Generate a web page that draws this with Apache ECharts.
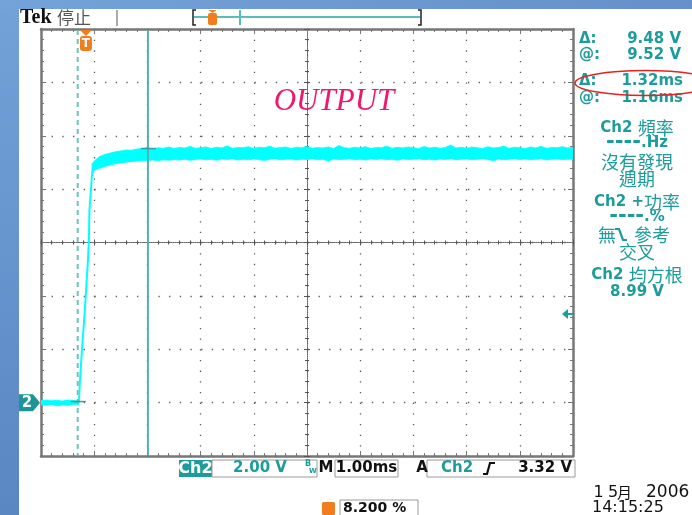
<!DOCTYPE html>
<html><head><meta charset="utf-8">
<script src="https://cdn.jsdelivr.net/npm/echarts@6/dist/echarts.min.js"></script>
<style>html,body{margin:0;padding:0;background:#fff}#c{width:692px;height:515px}</style>
</head><body><div id="c"></div>
<script>
// ---- data (time in ms from left edge of screen, Ch2 volts) ----
const baseT  = [0, 0.1, 0.2, 0.3, 0.4, 0.5, 0.6, 0.7, 0.713];
const baseUp = [0.08, 0.10, 0.07, 0.09, 0.06, 0.10, 0.08, 0.07, 0.06];
const baseLo = [-0.08, -0.10, -0.07, -0.12, -0.09, -0.10, -0.08, -0.07, -0.06];

const riseT = [0.713, 0.732, 0.769, 0.81, 0.844, 0.882, 0.90, 0.91, 0.938, 0.957, 0.976];
const riseV = [0, 0.82, 1.95, 3.07, 4.08, 5.32, 6.07, 7.19, 7.94, 8.50, 8.77];

const platT = [0.96,
  1.0,1.1,1.2,1.3,1.4,1.5,1.6,1.7,1.8,1.9,
  2.0,2.1,2.2,2.3,2.4,2.5,2.6,2.7,2.8,2.9,
  3.0,3.1,3.2,3.3,3.4,3.5,3.6,3.7,3.8,3.9,
  4.0,4.1,4.2,4.3,4.4,4.5,4.6,4.7,4.8,4.9,
  5.0,5.1,5.2,5.3,5.4,5.5,5.6,5.7,5.8,5.9,
  6.0,6.1,6.2,6.3,6.4,6.5,6.6,6.7,6.8,6.9,
  7.0,7.1,7.2,7.3,7.4,7.5,7.6,7.7,7.8,7.9,
  8.0,8.1,8.2,8.3,8.4,8.5,8.6,8.7,8.8,8.9,
  9.0,9.1,9.2,9.3,9.4,9.5,9.6,9.7,9.8,9.9,
  10.0];
const platUp = [8.95,
  9.05,9.22,9.30,9.35,9.40,9.43,9.47,9.46,9.50,9.52,
  9.56,9.50,9.55,9.53,9.58,9.52,9.56,9.54,9.60,9.53,
  9.55,9.58,9.52,9.57,9.54,9.62,9.53,9.56,9.55,9.59,
  9.52,9.57,9.55,9.61,9.53,9.56,9.58,9.52,9.57,9.55,
  9.60,9.53,9.56,9.54,9.58,9.52,9.63,9.55,9.53,9.57,
  9.54,9.59,9.52,9.56,9.55,9.61,9.53,9.57,9.54,9.58,
  9.55,9.52,9.60,9.54,9.57,9.53,9.56,9.65,9.54,9.57,
  9.53,9.58,9.55,9.52,9.59,9.54,9.56,9.61,9.53,9.57,
  9.55,9.52,9.58,9.54,9.60,9.53,9.56,9.55,9.59,9.54,
  9.56];
const platLo = [8.55,
  8.70,8.78,8.85,8.90,8.95,8.98,9.01,9.03,9.05,9.06,
  9.07,9.09,9.07,9.10,9.08,9.11,9.09,9.12,9.08,9.11,
  9.13,9.10,9.12,9.08,9.13,9.11,9.14,9.09,9.12,9.10,
  9.13,9.11,9.07,9.12,9.14,9.10,9.12,9.13,9.09,9.12,
  9.11,9.14,9.10,9.12,9.05,9.13,9.11,9.12,9.14,9.10,
  9.12,9.09,9.13,9.11,9.14,9.10,9.12,9.08,9.13,9.11,
  9.12,9.14,9.10,9.12,9.09,9.13,9.11,9.14,9.10,9.12,
  9.13,9.10,9.12,9.14,9.11,9.06,9.13,9.10,9.12,9.14,
  9.11,9.13,9.10,9.12,9.14,9.09,9.12,9.13,9.11,9.12,
  9.12];

const cursorT = [0.69, 2.01];
const cursorV = [0.04, 9.52];
const triggerT = 0.845;
const triggerLevel = 3.32;

const readoutLabels = ['Δ:', '@:', 'Δ:', '@:'];
const readoutValues = ['9.48 V', '9.52 V', '1.32ms', '1.16ms'];

// ---- colours ----
const TEAL = '#1e9c9c', CYAN = '#00ffff', ORANGE = '#f27d1c', GRID = '#5a5a5a', FRAME = '#777777';

const bands = [
  {t: baseT, up: baseUp, lo: baseLo},
  {t: platT, up: platUp, lo: platLo}
];

const chart = echarts.init(document.getElementById('c'), null, {renderer: 'canvas'});

function mainAxis(pos, split, extra) {
  return Object.assign({
    type: 'value', gridIndex: 0, position: pos,
    axisLine: {show: true, onZero: false, lineStyle: {color: FRAME, width: 2.5}},
    axisTick: {show: true, inside: true, length: 5, lineStyle: {color: FRAME, width: 1}},
    minorTick: {show: true, splitNumber: 5, length: 3, lineStyle: {color: FRAME, width: 1}},
    axisLabel: {show: false},
    splitLine: {show: split, lineStyle: {color: GRID, width: 1.3, type: [1.3, 9.375]}}
  }, extra);
}
function centerAxis(pos, extra) {
  return Object.assign({
    type: 'value', gridIndex: 1, position: pos,
    axisLine: {show: true, onZero: true, lineStyle: {color: '#666', width: 1, type: [1, 1.2]}},
    axisTick: {show: true, length: 3, lineStyle: {color: '#555', width: 1}},
    minorTick: {show: true, splitNumber: 5, length: 2, lineStyle: {color: '#555', width: 1}},
    axisLabel: {show: false},
    splitLine: {show: false}
  }, extra);
}

function txt(x, y, text, font, fill, align) {
  return {type: 'text', x: x, y: y, z: 10, silent: true,
    style: {text: text, font: font, fill: fill, align: align || 'left', verticalAlign: 'middle',
            textAlign: align || 'left', textVerticalAlign: 'middle'}};
}
const LAT = 'bold 15px "DejaVu Sans", sans-serif';
const DATEF = '16px "DejaVu Sans", sans-serif';
const richStyles = {
  a: {fontSize: 15, fontWeight: 'bold', fontFamily: '"DejaVu Sans", sans-serif', fill: TEAL, color: TEAL},
  d: {fontSize: 21, fontWeight: 'bold', fontFamily: '"DejaVu Sans", sans-serif', fill: TEAL, color: TEAL},
  c: {fontSize: 18, fontWeight: 'normal', fontFamily: '"Noto Sans CJK TC", sans-serif', fill: TEAL, color: TEAL}
};
function rtxt(x, y, text) {
  return {type: 'text', x: x, y: y, z: 10, silent: true,
    style: {text: text, rich: richStyles, fill: TEAL, align: 'center', verticalAlign: 'middle',
            textAlign: 'center', textVerticalAlign: 'middle'}};
}
function box(x, y, w, h, fill, stroke) {
  return {type: 'rect', z: 9, silent: true, shape: {x: x, y: y, width: w, height: h},
    style: {fill: fill || '#fff', stroke: stroke || null, lineWidth: 1}};
}
function pl(points, stroke, w) {
  return {type: 'polyline', z: 10, silent: true, shape: {points: points},
    style: {stroke: stroke, lineWidth: w || 1.5, fill: null}};
}

const graphics = [
  // blue surround
  {type: 'rect', z: 1, silent: true, shape: {x: 0, y: 0, width: 19, height: 515},
    style: {fill: new echarts.graphic.LinearGradient(0, 0, 0, 1, [{offset: 0, color: '#72a2d8'}, {offset: 1, color: '#5a86c2'}])}},
  {type: 'rect', z: 1, silent: true, shape: {x: 0, y: 0, width: 692, height: 9},
    style: {fill: new echarts.graphic.LinearGradient(0, 0, 1, 0, [{offset: 0, color: '#73a3d8'}, {offset: 1, color: '#6690c9'}])}},
  // header
  txt(20, 18, 'Tek', 'bold 20px "Liberation Serif", serif', '#111'),
  txt(57, 18, '停止', '17px "Noto Sans CJK TC", sans-serif', '#555'),
  pl([[117, 10], [117, 26]], '#aaaaaa', 2),
  pl([[196, 10], [193, 10], [193, 25], [196, 25]], '#222', 1.5),
  pl([[418, 10], [421, 10], [421, 25], [418, 25]], '#222', 1.5),
  pl([[194, 17], [420, 17]], '#5bbcbc', 2),
  pl([[240, 10], [240, 25]], '#5bbcbc', 2),
  {type: 'polygon', z: 11, silent: true, shape: {points: [[208.5, 10], [216.5, 10], [212.5, 13]]}, style: {fill: ORANGE}},
  {type: 'rect', z: 11, silent: true, shape: {x: 208, y: 13, width: 9, height: 12, r: 2}, style: {fill: ORANGE}},
  pl([[212.5, 15], [212.5, 23]], '#fff', 1.5),
  // right readouts
  txt(579, 39, readoutLabels[0], LAT, TEAL), txt(681, 39, readoutValues[0], LAT, TEAL, 'right'),
  txt(579, 55, readoutLabels[1], LAT, TEAL), txt(681, 55, readoutValues[1], LAT, TEAL, 'right'),
  txt(579, 81, readoutLabels[2], LAT, TEAL), txt(683, 81, readoutValues[2], LAT, TEAL, 'right'),
  txt(579, 98, readoutLabels[3], LAT, TEAL), txt(683, 98, readoutValues[3], LAT, TEAL, 'right'),
  {type: 'ellipse', z: 12, silent: true, shape: {cx: 645, cy: 83, rx: 70, ry: 12.5},
    style: {fill: null, stroke: '#e52222', lineWidth: 1.5}},
  rtxt(637, 128, '{a|Ch2 }{c|頻率}'),
  rtxt(637, 143, '{d|----}{a|.Hz}'),
  rtxt(637, 162, '{c|沒有發現}'),
  rtxt(637, 179, '{c|週期}'),
  rtxt(637, 202, '{a|Ch2 +}{c|功率}'),
  rtxt(637, 217, '{d|----}{a|.%}'),
  rtxt(607, 235, '{c|無}'),
  pl([[615, 229], [619, 229], [623, 240], [627, 240]], TEAL, 2.2),
  rtxt(652, 235, '{c|參考}'),
  rtxt(637, 252, '{c|交叉}'),
  rtxt(637, 275, '{a|Ch2 }{c|均方根}'),
  rtxt(637, 292, '{a|8.99 V}'),
  // OUTPUT label
  txt(334, 102, 'OUTPUT', 'italic 31px "Liberation Serif", serif', '#f0186e', 'center'),
  // bottom status bar
  box(179, 460, 33, 17, TEAL),
  txt(195.5, 468.5, 'Ch2', 'bold 16px "DejaVu Sans", sans-serif', '#fff', 'center'),
  box(212, 460, 105, 17, '#fff', '#9a9a9a'),
  txt(260, 468.5, '2.00 V', LAT, TEAL, 'center'),
  txt(305, 464, 'B', 'bold 8px "DejaVu Sans", sans-serif', TEAL),
  txt(309, 471, 'W', 'bold 7px "DejaVu Sans", sans-serif', TEAL),
  txt(326, 468.5, 'M', LAT, '#111', 'center'),
  box(335, 460, 63, 17, '#fff', '#9a9a9a'),
  txt(366.5, 468.5, '1.00ms', LAT, '#111', 'center'),
  txt(422, 468.5, 'A', LAT, '#111', 'center'),
  box(427, 460, 148, 17, '#fff', '#9a9a9a'),
  txt(457, 468.5, 'Ch2', LAT, TEAL, 'center'),
  pl([[483, 474], [487, 474], [490, 463], [495, 463]], '#111', 2.2),
  txt(572, 468.5, '3.32 V', LAT, '#111', 'right'),
  txt(598.5, 493, '1', DATEF, '#111', 'center'),
  txt(613, 493, '5', DATEF, '#111', 'center'),
  txt(624.5, 492, '月', '15px "Noto Sans CJK TC", sans-serif', '#111', 'center'),
  txt(646, 493, '2006', '17px "DejaVu Sans", sans-serif', '#111'),
  txt(592, 508, '14:15:25', DATEF, '#111'),
  {type: 'rect', z: 11, silent: true, shape: {x: 322, y: 502, width: 13, height: 13, r: 1.5}, style: {fill: ORANGE}},
  txt(328.5, 508.5, 'T', 'bold 12px "DejaVu Sans", sans-serif', '#fff', 'center'),
  box(340, 500, 78, 16, '#fff', '#9a9a9a'),
  txt(343, 508, '8.200 %', 'bold 14px "DejaVu Sans", sans-serif', '#111')
];

const option = {
  backgroundColor: '#ffffff',
  animation: false,
  grid: [
    {left: 41, top: 29, width: 532, height: 427, show: false},
    {left: 41, top: 29, width: 532, height: 427, show: false}
  ],
  xAxis: [
    mainAxis('bottom', true, {min: 0, max: 10, interval: 1}),
    mainAxis('top', false, {min: 0, max: 10, interval: 1}),
    centerAxis('bottom', {min: -5, max: 5, interval: 1}),
    centerAxis('top', {min: -5, max: 5, interval: 1})
  ],
  yAxis: [
    mainAxis('left', true, {min: -2, max: 14, interval: 2}),
    mainAxis('right', false, {min: -2, max: 14, interval: 2}),
    centerAxis('left', {min: -4, max: 4, interval: 1}),
    centerAxis('right', {min: -4, max: 4, interval: 1})
  ],
  series: [
    {
      type: 'custom', name: 'trace band', xAxisIndex: 0, yAxisIndex: 0, z: 3, clip: true,
      data: bands.map((b, i) => [b.t[0], b.up[0], i]),
      renderItem: function (params, api) {
        const b = bands[api.value(2)];
        const upper = b.t.map((t, i) => api.coord([t, b.up[i]]));
        const lower = b.t.map((t, i) => api.coord([t, b.lo[i]])).reverse();
        return {type: 'polygon', shape: {points: upper.concat(lower)},
          style: {fill: CYAN, stroke: CYAN, lineWidth: 0.8}};
      }
    },
    {
      type: 'line', name: 'rise', xAxisIndex: 0, yAxisIndex: 0, z: 3,
      data: riseT.map((t, i) => [t, riseV[i]]),
      symbol: 'none', lineStyle: {color: CYAN, width: 2}
    },
    {
      type: 'custom', name: 'cursors', xAxisIndex: 0, yAxisIndex: 0, z: 5, clip: false,
      data: cursorT.map((t, i) => [t, cursorV[i], i]),
      renderItem: function (params, api) {
        const t = api.value(0), v = api.value(1), k = api.value(2);
        const top = api.coord([t, 14]), bot = api.coord([t, -2]), c = api.coord([t, v]);
        return {type: 'group', children: [
          {type: 'line', shape: {x1: top[0], y1: top[1] + 1, x2: bot[0], y2: bot[1] - 1},
            style: {stroke: k ? '#4fb3b3' : '#6cc3c3', lineWidth: 2, lineDash: k ? null : [5, 4]}},
          {type: 'line', shape: {x1: c[0] - 7, y1: c[1], x2: c[0] + 8, y2: c[1]},
            style: {stroke: '#3c9a9a', lineWidth: 1.5}}
        ]};
      }
    },
    {
      type: 'custom', name: 'markers', xAxisIndex: 0, yAxisIndex: 0, z: 6, clip: false,
      data: [[triggerT, 14, 0], [10, triggerLevel, 1], [0, 0, 2]],
      renderItem: function (params, api) {
        const p = api.coord([api.value(0), api.value(1)]), k = api.value(2);
        if (k === 0) {
          return {type: 'group', children: [
            {type: 'polygon', shape: {points: [[p[0] - 6, p[1] + 1], [p[0] + 6, p[1] + 1], [p[0], p[1] + 7]]}, style: {fill: ORANGE}},
            {type: 'rect', shape: {x: p[0] - 6, y: p[1] + 7, width: 12, height: 15, r: 3}, style: {fill: ORANGE}},
            {type: 'text', x: p[0], y: p[1] + 15, style: {text: 'T', font: 'bold 12px "DejaVu Sans", sans-serif', fill: '#fff',
              align: 'center', verticalAlign: 'middle', textAlign: 'center', textVerticalAlign: 'middle'}}
          ]};
        }
        if (k === 1) {
          return {type: 'group', children: [
            {type: 'polygon', shape: {points: [[p[0] - 11, p[1]], [p[0] - 5, p[1] - 5], [p[0] - 5, p[1] + 5]]}, style: {fill: TEAL}},
            {type: 'line', shape: {x1: p[0] - 6, y1: p[1], x2: p[0], y2: p[1]}, style: {stroke: TEAL, lineWidth: 2}}
          ]};
        }
        return {type: 'group', children: [
          {type: 'polygon', shape: {points: [[19, p[1] - 8.5], [33, p[1] - 8.5], [p[0] - 1, p[1]], [33, p[1] + 8.5], [19, p[1] + 8.5]]}, style: {fill: '#1a9696'}},
          {type: 'text', x: 27, y: p[1] + 0.5, style: {text: '2', font: 'bold 15px "DejaVu Sans", sans-serif', fill: '#fff',
            align: 'center', verticalAlign: 'middle', textAlign: 'center', textVerticalAlign: 'middle'}}
        ]};
      }
    }
  ],
  graphic: graphics
};
chart.setOption(option);
</script>
</body></html>
